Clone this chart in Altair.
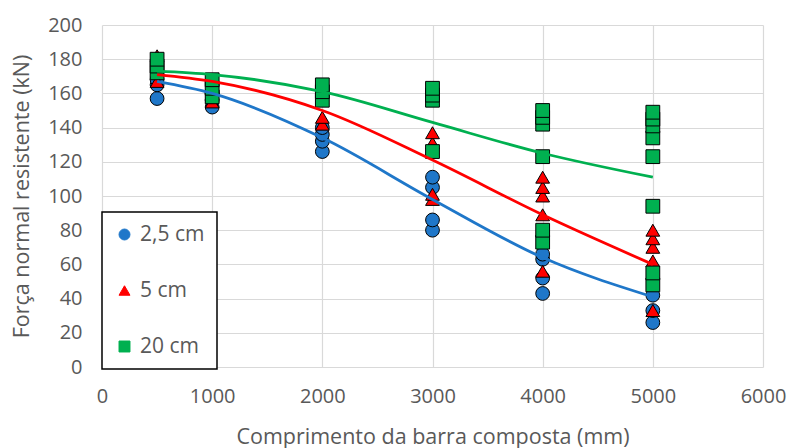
import altair as alt
import pandas as pd

# Ensaios: comprimento da barra (mm) e força normal resistente (kN) por espaçamento
series = ["2,5 cm", "5 cm", "20 cm"]

x_25 = [500, 500, 500, 1000, 1000, 1000, 2000, 2000, 2000, 2000,
        3000, 3000, 3000, 3000, 4000, 4000, 4000, 4000, 5000, 5000, 5000]
y_25 = [157, 165, 168, 152, 156, 160, 126, 132, 136, 140,
        80, 86, 105, 111, 43, 52, 63, 66, 26, 33, 42]

x_5 = [500, 500, 1000, 1000, 2000, 2000, 3000, 3000, 3000, 3000,
       4000, 4000, 4000, 4000, 4000, 5000, 5000, 5000, 5000, 5000]
y_5 = [167, 182, 155, 160, 142, 146, 98, 101, 131, 137,
       56, 89, 100, 105, 111, 33, 62, 70, 75, 80]

x_20 = [500, 500, 500, 1000, 1000, 1000, 2000, 2000, 2000,
        3000, 3000, 3000, 3000, 4000, 4000, 4000, 4000, 4000, 4000,
        5000, 5000, 5000, 5000, 5000, 5000, 5000, 5000]
y_20 = [172, 176, 180, 158, 163, 168, 156, 161, 165,
        126, 156, 159, 163, 73, 80, 123, 142, 146, 150,
        48, 55, 94, 123, 134, 141, 145, 149]

# Curvas de resistência teórica
x_curve = [500, 1000, 2000, 3000, 4000, 5000]
c_25 = [167, 160, 134, 98, 64, 41]
c_5 = [171, 167, 150, 121, 89, 60]
c_20 = [173, 171, 161, 143, 125, 111]

x_ticks = [0, 1000, 2000, 3000, 4000, 5000, 6000]
y_ticks = [0, 20, 40, 60, 80, 100, 120, 140, 160, 180, 200]

colors = ["#1f77c9", "#ff0000", "#00b050"]
shapes = ["circle", "triangle-up", "square"]

pts = pd.concat([
    pd.DataFrame({"L": x_25, "N": y_25, "serie": series[0], "ordem": 0}),
    pd.DataFrame({"L": x_5, "N": y_5, "serie": series[1], "ordem": 1}),
    pd.DataFrame({"L": x_20, "N": y_20, "serie": series[2], "ordem": 2}),
], ignore_index=True)

curves = pd.concat([
    pd.DataFrame({"L": x_curve, "N": c_25, "curva": series[0]}),
    pd.DataFrame({"L": x_curve, "N": c_5, "curva": series[1]}),
    pd.DataFrame({"L": x_curve, "N": c_20, "curva": series[2]}),
], ignore_index=True)

FONT = "Open Sans"
GREY = "#595959"

x_enc = alt.X(
    "L:Q",
    scale=alt.Scale(domain=[0, 6000], nice=False),
    axis=alt.Axis(
        values=x_ticks,
        format="d",
        labelOverlap=False,
        labelFlush=False,
        title="Comprimento da barra composta (mm)",
        labelPadding=19,
        titleY=70,
        titleBaseline="middle",
    ),
)
y_enc = alt.Y(
    "N:Q",
    scale=alt.Scale(domain=[0, 200], nice=False),
    axis=alt.Axis(
        values=y_ticks,
        format="d",
        labelOverlap=False,
        labelFlush=False,
        title="Força normal resistente (kN)",
        labelPadding=20,
        titleX=-80,
        titleY=171,
        titleAngle=270,
        titleAlign="center",
        titleBaseline="middle",
    ),
)

legend = alt.Legend(
    title=None,
    orient="none",
    legendX=0,
    legendY=187,
    labelExpr="datum.label + '\u00a0'",
)

points = alt.Chart(pts).mark_point(
    filled=True, stroke="black", strokeWidth=1, opacity=1, size=190
).encode(
    x=x_enc,
    y=y_enc,
    color=alt.Color("serie:N", scale=alt.Scale(domain=series, range=colors), legend=legend),
    shape=alt.Shape("serie:N", scale=alt.Scale(domain=series, range=shapes), legend=legend),
    order=alt.Order("ordem:Q"),
)

lines = alt.Chart(curves).mark_line(
    strokeWidth=2.8, interpolate="monotone"
).encode(
    x=x_enc,
    y=y_enc,
    stroke=alt.Stroke("curva:N", scale=alt.Scale(domain=series, range=colors), legend=None),
)

chart = alt.layer(points, lines).properties(
    width=661,
    height=342,
    autosize=alt.AutoSizeParams(type="none"),
    padding={"left": 102, "top": 25, "right": 29, "bottom": 81},
).configure_view(
    stroke=None
).configure_axis(
    domain=False,
    ticks=False,
    grid=True,
    gridColor="#d9d9d9",
    gridWidth=1.2,
    labelOverlap=False,
    labelFlush=False,
    labelFont=FONT,
    labelFontSize=20,
    labelColor=GREY,
    titleFont=FONT,
    titleFontSize=21.5,
    titleFontWeight="normal",
    titleColor=GREY,
).configure_legend(
    fillColor="white",
    strokeColor="black",
    strokeWidth=1.5,
    padding=12,
    rowPadding=34,
    labelFont=FONT,
    labelFontSize=21,
    labelColor=GREY,
    labelOffset=5,
    symbolSize=120,
    symbolStrokeColor="black",
    symbolStrokeWidth=1,
)

chart.save("out.html", embed_options={"renderer": "svg", "actions": False})
